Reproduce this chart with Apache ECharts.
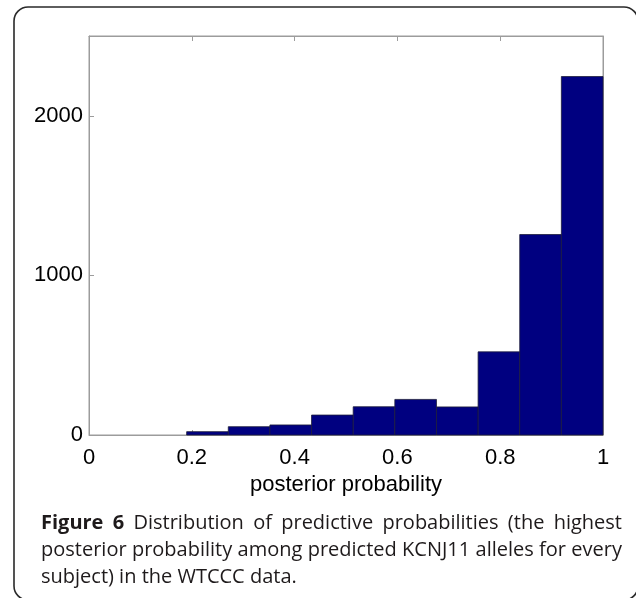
<!DOCTYPE html>
<html>
<head>
<meta charset="utf-8">
<script src="https://cdn.jsdelivr.net/npm/echarts@6/dist/echarts.min.js"></script>
<style>
html, body { margin: 0; padding: 0; background: #fff; }
#div-chart { width: 636px; height: 598px; }
</style>
</head>
<body>
<div id="div-chart"></div>
<script>
// histogram bins (posterior probability) and counts per bin
var binEdges = [0.190, 0.271, 0.352, 0.433, 0.514, 0.595, 0.676, 0.757, 0.838, 0.919, 1.000];
var counts = [21, 52, 63, 125, 177, 223, 176, 521, 1256, 2246];

var xTickValues = [0, 0.2, 0.4, 0.6, 0.8, 1];
var yTickValues = [0, 1000, 2000];
var xName = 'posterior probability';

// caption, word by word; true = bold
var captionLines = [
    [['Figure', true], ['6', true], ['Distribution'], ['of'], ['predictive'], ['probabilities'], ['(the'], ['highest']],
    [['posterior'], ['probability'], ['among'], ['predicted'], ['KCNJ11'], ['alleles'], ['for'], ['every']],
    [['subject)'], ['in'], ['the'], ['WTCCC'], ['data.']]
];

var histData = counts.map(function (c, i) {
    return [binEdges[i], binEdges[i + 1], c];
});

var myChart = echarts.init(document.getElementById('div-chart'));

// caption layout: justified text, measured with a canvas
var ctx = document.createElement('canvas').getContext('2d');
function fontStr(size, bold) {
    return (bold ? 'bold ' : '') + size + 'px "Open Sans"';
}
function measure(t, size, bold) {
    ctx.font = fontStr(size, bold);
    return ctx.measureText(t).width;
}
var capLeft = 41, capRight = 622;
var capBase = [533, 560, 587];
var capSize = 20;
var natural = 0;
captionLines.slice(0, 2).forEach(function (line) {
    var w = 0;
    line.forEach(function (wd) { w += measure(wd[0], capSize, wd[1]); });
    w += measure(' ', capSize, false) * (line.length - 1) * 0.8;
    natural = Math.max(natural, w);
});
if (natural > capRight - capLeft) {
    capSize = Math.floor(capSize * (capRight - capLeft) / natural * 10) / 10;
}

var captionEls = [];
captionLines.forEach(function (line, li) {
    var widths = line.map(function (wd) { return measure(wd[0], capSize, wd[1]); });
    var sum = widths.reduce(function (a, b) { return a + b; }, 0);
    var gap = li < captionLines.length - 1
        ? (capRight - capLeft - sum) / (line.length - 1)
        : measure(' ', capSize, false);
    var x = capLeft;
    line.forEach(function (wd, wi) {
        captionEls.push({
            type: 'text',
            x: x,
            y: capBase[li],
            style: {
                text: wd[0],
                font: fontStr(capSize, wd[1]),
                fill: '#1e1a1b',
                textAlign: 'left',
                textVerticalAlign: 'bottom'
            }
        });
        x += widths[wi] + gap;
    });
});

var axisColor = '#9c9c9c';
var labelFont = {color: '#000', fontFamily: 'Liberation Sans', fontSize: 22};

function frameAxis(extra) {
    return Object.assign({
        axisLine: {show: true, onZero: false, lineStyle: {color: axisColor}},
        axisTick: {show: true, inside: true, length: 5, lineStyle: {color: axisColor}},
        splitLine: {show: false}
    }, extra);
}

option = {
    backgroundColor: '#fff',
    animation: false,
    grid: {left: 89, right: 33, top: 36, bottom: 163, outerBoundsMode: 'none',
        show: true, borderColor: axisColor, borderWidth: 1},
    xAxis: [
        frameAxis({
            type: 'value', min: 0, max: 1, interval: 0.2, position: 'bottom',
            name: xName, nameLocation: 'middle', nameGap: 35,
            nameTextStyle: labelFont,
            axisLabel: Object.assign({margin: 12, formatter: function (v) {
                return xTickValues.indexOf(+v.toFixed(1)) >= 0 ? String(+v.toFixed(1)) : '';
            }}, labelFont)
        }),
        frameAxis({
            type: 'value', min: 0, max: 1, interval: 0.2, position: 'top',
            axisLabel: {show: false}
        })
    ],
    yAxis: [
        frameAxis({
            type: 'value', min: 0, max: 2500, interval: 1000, position: 'left',
            axisLabel: Object.assign({margin: 6, showMaxLabel: false, formatter: function (v) {
                return yTickValues.indexOf(v) >= 0 ? String(v) : '';
            }}, labelFont)
        }),
        frameAxis({
            type: 'value', min: 0, max: 2500, interval: 1000, position: 'right',
            axisLabel: {show: false}
        })
    ],
    series: [
        {
            type: 'custom',
            xAxisIndex: 0,
            yAxisIndex: 0,
            data: histData,
            renderItem: function (params, api) {
                var p0 = api.coord([api.value(0), api.value(2)]);
                var p1 = api.coord([api.value(1), 0]);
                return {
                    type: 'rect',
                    shape: {x: p0[0], y: p0[1], width: p1[0] - p0[0], height: p1[1] - p0[1]},
                    style: {fill: '#000080', stroke: '#1c1c3a', lineWidth: 0.8}
                };
            }
        }
    ],
    graphic: [
        {
            type: 'rect',
            shape: {x: 14, y: 7, width: 624, height: 593, r: 14},
            style: {fill: null, stroke: '#2a2a2a', lineWidth: 1.6}
        }
    ].concat(captionEls)
};

myChart.setOption(option);
</script>
</body>
</html>
